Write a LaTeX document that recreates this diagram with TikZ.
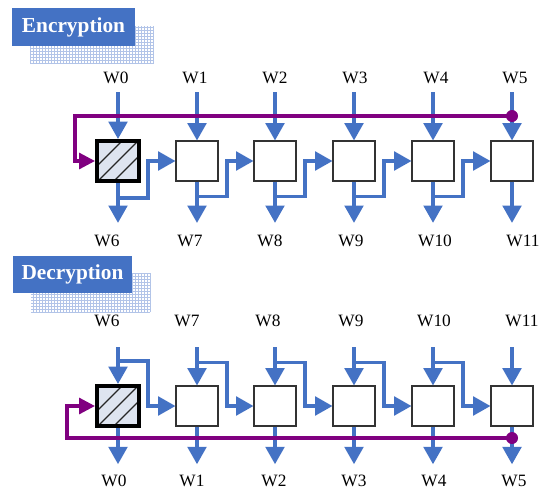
\documentclass[tikz,border=0pt]{standalone}
\usepackage{fontspec}
\setmainfont{Liberation Serif}
\usetikzlibrary{arrows.meta,calc}
\definecolor{flowblue}{RGB}{68,114,196}
\definecolor{keypurple}{RGB}{128,0,128}
\definecolor{hatchfill}{RGB}{222,228,240}
\definecolor{gridblue}{RGB}{178,196,232}

\begin{document}
\begin{tikzpicture}
  [x=0.75pt,y=-0.75pt,
   every node/.style={font=\fontsize{13}{15}\selectfont,inner sep=1pt},
   kbox/.style={draw=black!80,line width=0.8pt,fill=white,minimum width=31.5pt,minimum height=30pt,inner sep=0pt},
   rbox/.style={kbox,draw=black,line width=3pt,fill=hatchfill,
     path picture={\foreach \k in {-1,0,1}
       \draw[black!85,line width=1pt] ($(path picture bounding box.center)+(-25+16*\k,25)$) -- ++(50,-50);}},
   flow/.style={flowblue,line width=2.4pt,-{Triangle[length=13pt,width=14pt]}},
   key/.style={keypurple,line width=2.4pt},
   title/.style={fill=flowblue,text=white,font=\fontsize{16}{18}\selectfont\bfseries,inner sep=0pt,minimum height=28pt}]
  \useasboundingbox (0,0) rectangle (541,496);

  % titles with grid shadow
  \draw[gridblue,line width=0.35pt,step=2.25pt] (30,26) grid (153,64);
  \draw[gridblue,line width=0.35pt,step=2.25pt] (31,273) grid (150,312);
  \node [title,minimum width=92pt] (tenc) at (73.5,27) {Encryption};
  \node [title,minimum width=89pt] (tdec) at (72.5,274.5) {Decryption};

  % encryption
  \node [rbox] (e0) at (118,161) {};
  \foreach \i/\x in {1/197,2/275,3/354,4/433,5/512}
    \node [kbox] (e\i) at (\x,161) {};
  \foreach \i/\x/\t in {0/116/W0,1/195/W1,2/275/W2,3/355/W3,4/436/W4,5/515/W5}
    \node (et\i) at (\x,78) {\t};
  \foreach \i/\x/\t in {0/107/W6,1/190/W7,2/270/W8,3/351/W9,4/435/W10,5/523/W11}
    \node (eb\i) at (\x,241) {\t};
  \foreach \i in {0,...,5} {
    \draw [flow,shorten <=5pt] (et\i.south -| e\i.north) -- (e\i.north);
    \draw [flow,shorten >=8pt] (e\i.south) -- (eb\i.north -| e\i.south);
  }
  \foreach \from/\to in {0/1,1/2,2/3,3/4,4/5}
    \draw [flow] ($(e\from.south)+(0,15)$) -- ++(30,0) |- (e\to.west);
  \coordinate (ekey) at (512,116);
  \coordinate (ecorner) at (75,116);
  \draw [key,-{Triangle[length=12pt,width=12pt]}] (ekey) -- (ecorner) |- (e0.west);
  \fill [keypurple] (ekey) circle (4.5pt);

  % decryption
  \node [rbox] (d0) at (118,406) {};
  \foreach \i/\x in {1/197,2/275,3/354,4/433,5/512}
    \node [kbox] (d\i) at (\x,406) {};
  \foreach \i/\x/\t in {0/107/W6,1/187/W7,2/268/W8,3/351/W9,4/434/W10,5/522/W11}
    \node (dt\i) at (\x,321) {\t};
  \foreach \i/\x/\t in {0/114/W0,1/192/W1,2/274/W2,3/354/W3,4/434/W4,5/514/W5}
    \node (db\i) at (\x,481) {\t};
  \foreach \i in {0,...,5} {
    \draw [flow,shorten <=14pt] (dt\i.south -| d\i.north) -- (d\i.north);
    \draw [flow,shorten >=7pt] (d\i.south) -- (db\i.north -| d\i.south);
  }
  \foreach \from/\to in {0/1,1/2,2/3,3/4,4/5}
    \draw [flow] ($(d\from.north)+(0,-23)$) -- ++(30,0) |- (d\to.west);
  \coordinate (dkey) at (512,438);
  \coordinate (dcorner) at (67,438);
  \draw [key,-{Triangle[length=12pt,width=12pt]}] (dkey) -- (dcorner) |- (d0.west);
  \fill [keypurple] (dkey) circle (4.5pt);

\end{tikzpicture}
\end{document}
